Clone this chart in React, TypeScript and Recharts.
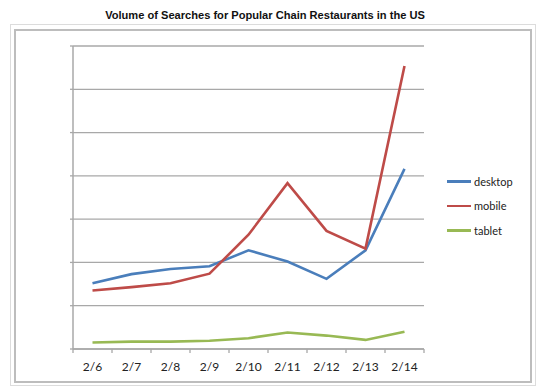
import React from "react";
import { LineChart, Line, XAxis, YAxis, CartesianGrid } from "recharts";

// dates on the x axis
const days = ["2/6", "2/7", "2/8", "2/9", "2/10", "2/11", "2/12", "2/13", "2/14"];

// search volume (y axis has no labels, 10 = one gridline)
const desktop = [15.2, 17.3, 18.5, 19.1, 22.8, 20.2, 16.2, 22.8, 41.6];
const mobile = [13.5, 14.3, 15.2, 17.4, 26.4, 38.3, 27.3, 23.2, 65.4];
const tablet = [1.5, 1.7, 1.7, 1.9, 2.5, 3.8, 3.1, 2.1, 4.0];

const yTicks = [0, 10, 20, 30, 40, 50, 60, 70];

const SERIES = [
  { key: "desktop", color: "#4A7EBB" },
  { key: "mobile", color: "#BE4B48" },
  { key: "tablet", color: "#98B954" },
];

const data = days.map((d, i) => ({
  day: d,
  desktop: desktop[i],
  mobile: mobile[i],
  tablet: tablet[i],
}));

const GRID = "#a8a8a8";
const FONT = "Lato, 'Open Sans', sans-serif";
const HALF_BAND = 19.5;

function DayTick(props: any) {
  const { x, y, payload, index } = props;
  const last = index === days.length - 1;
  return (
    <g>
      <line x1={x - HALF_BAND} y1={y} x2={x - HALF_BAND} y2={y + 4} stroke={GRID} strokeWidth={1.3} />
      {last && (
        <line x1={x + HALF_BAND} y1={y} x2={x + HALF_BAND} y2={y + 4} stroke={GRID} strokeWidth={1.3} />
      )}
      <text x={x} y={y + 22} textAnchor="middle" fontSize={12} fontFamily={FONT} fill="#222">
        {payload.value}
      </text>
    </g>
  );
}

// y axis carries tick marks only, no labels
const NoLabel = () => <g />;

// legend drawn as plain html next to the plot
function LegendBox() {
  return (
    <div style={{ position: "absolute", left: 447, top: 169, fontFamily: FONT, fontSize: 11, color: "#222" }}>
      {SERIES.map((s) => (
        <div key={s.key} style={{ display: "flex", alignItems: "center", height: 24.5 }}>
          <span style={{ display: "inline-block", width: 24, height: 2.5, background: s.color, marginRight: 3 }} />
          <span>{s.key}</span>
        </div>
      ))}
    </div>
  );
}

export default function App() {
  return (
    <div style={{ position: "absolute", left: 0, top: 0, width: 550, height: 391, background: "#fff" }}>
      <div
        style={{
          position: "absolute",
          left: 0,
          top: 9,
          width: 530,
          textAlign: "center",
          fontFamily: "'Liberation Sans', Arial, sans-serif",
          fontWeight: "bold",
          fontSize: 11.1,
          color: "#111",
        }}
      >
        Volume of Searches for Popular Chain Restaurants in the US
      </div>
      {/* outer and inner frame */}
      <div style={{ position: "absolute", left: 10, top: 24, width: 524, height: 360, border: "1px solid #dcdcdc" }} />
      <div style={{ position: "absolute", left: 14, top: 29, width: 514, height: 350, border: "2px solid #bdbdbd" }} />

      <div style={{ position: "absolute", left: 0, top: 0 }}>
        <LineChart width={550} height={391} data={data} margin={{ top: 46, right: 126, left: 0, bottom: 0 }}>
          <CartesianGrid horizontal vertical={false} stroke={GRID} strokeWidth={1.3} />
          <XAxis
            dataKey="day"
            height={42}
            padding={{ left: HALF_BAND, right: HALF_BAND }}
            axisLine={{ stroke: GRID, strokeWidth: 1.3 }}
            tickLine={false}
            tickSize={0}
            tickMargin={0}
            interval={0}
            tick={<DayTick />}
          />
          <YAxis
            width={73}
            domain={[0, 70]}
            ticks={yTicks}
            interval={0}
            tick={NoLabel}
            tickSize={3}
            axisLine={{ stroke: GRID, strokeWidth: 1.5 }}
            tickLine={{ stroke: GRID, strokeWidth: 1.3 }}
          />
          {SERIES.map((s) => (
            <Line
              key={s.key}
              type="linear"
              dataKey={s.key}
              stroke={s.color}
              strokeWidth={2.6}
              dot={false}
              isAnimationActive={false}
            />
          ))}
        </LineChart>
      </div>
      <LegendBox />
    </div>
  );
}
